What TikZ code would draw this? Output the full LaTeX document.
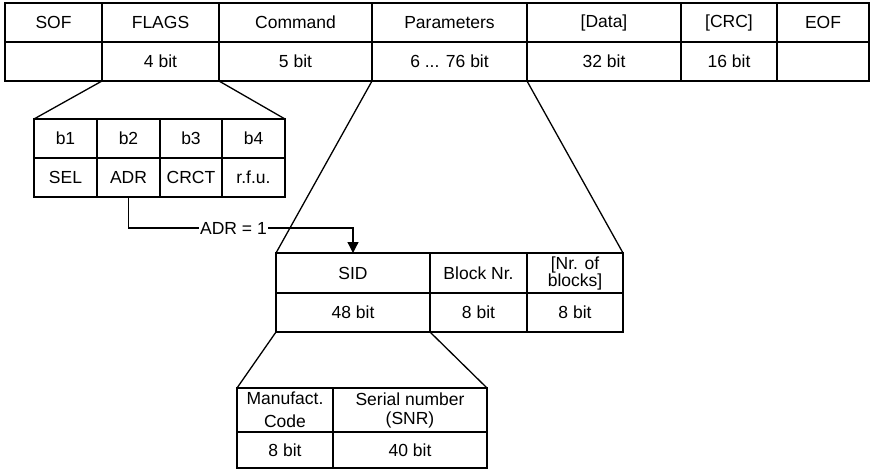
\documentclass[tikz,border=0pt]{standalone}
\usepackage{fontspec}
\setmainfont{Liberation Sans}
\usetikzlibrary{arrows.meta,calc}
\tikzset{
  cell/.style={draw, line width=1.3pt, inner sep=0pt, outer sep=0pt, align=center,
    font=\fontsize{17.5}{17}\selectfont},
  fan/.style={line width=1.3pt},
  conn/.style={line width=1.3pt, -{Triangle[width=11pt,length=11pt]}}
}
\newcommand{\cellat}[6]{% name, x1, y1, x2, y2, text
  \node[cell, minimum width=#4-#2, minimum height=#5-#3] (#1) at ({(#2+#4)/2},{(#3+#5)/2}) {#6};}
\begin{document}
\begin{tikzpicture}[x=1pt,y=-1pt]
\useasboundingbox (0,0) rectangle (870,469);
% top frame
\cellat{sof}{5}{3}{102}{42}{SOF}
\cellat{sofb}{5}{42}{102}{81}{}
\cellat{flags}{102}{3}{219}{42}{FLAGS}
\cellat{flagsb}{102}{42}{219}{81}{4 bit}
\cellat{cmd}{219}{3}{372}{42}{Command}
\cellat{cmdb}{219}{42}{372}{81}{5 bit}
\cellat{par}{372}{3}{527}{42}{Parameters}
\cellat{parb}{372}{42}{527}{81}{6 ... 76 bit}
\cellat{data}{527}{3}{681}{42}{[Data]}
\cellat{datab}{527}{42}{681}{81}{32 bit}
\cellat{crc}{681}{3}{777}{42}{[CRC]}
\cellat{crcb}{681}{42}{777}{81}{16 bit}
\cellat{eof}{777}{3}{869}{42}{EOF}
\cellat{eofb}{777}{42}{869}{81}{}
% flags table
\cellat{b1}{34}{119}{97}{158}{b1}
\cellat{sel}{34}{158}{97}{197}{SEL}
\cellat{b2}{97}{119}{160}{158}{b2}
\cellat{adr}{97}{158}{160}{197}{ADR}
\cellat{b3}{160}{119}{222}{158}{b3}
\cellat{crct}{160}{158}{222}{197}{CRCT}
\cellat{b4}{222}{119}{285}{158}{b4}
\cellat{rfu}{222}{158}{285}{197}{r.f.u.}
% parameters table
\cellat{sid}{276}{253}{430}{293}{SID}
\cellat{sidb}{276}{293}{430}{332}{48 bit}
\cellat{blk}{430}{253}{527}{293}{Block Nr.}
\cellat{blkb}{430}{293}{527}{332}{8 bit}
\cellat{nrb}{527}{253}{623}{293}{[Nr. of\\blocks]}
\cellat{nrbb}{527}{293}{623}{332}{8 bit}
% SID table
\cellat{man}{237}{388}{333}{432}{Manufact.\\[6pt]Code}
\cellat{manb}{237}{432}{333}{468}{8 bit}
\cellat{snr}{333}{388}{487}{432}{Serial number\\[2pt](SNR)}
\cellat{snrb}{333}{432}{487}{468}{40 bit}
% fan lines
\draw[fan] (flagsb.south west) -- (b1.north west);
\draw[fan] (flagsb.south east) -- (b4.north east);
\draw[fan] (parb.south west) -- (sid.north west);
\draw[fan] (parb.south east) -- (nrb.north east);
\draw[fan] (sidb.south west) -- (man.north west);
\draw[fan] (sidb.south east) -- (snr.north east);
% ADR connector
\draw[conn] (adr.south) -- ++(0,31) coordinate (adrturn) -| (sid.north);
\node[fill=white, inner sep=1pt, font=\fontsize{17.5}{17}\selectfont] (adrlbl) at ($(adrturn)+(105,0)$) {ADR = 1};
\end{tikzpicture}
\end{document}
